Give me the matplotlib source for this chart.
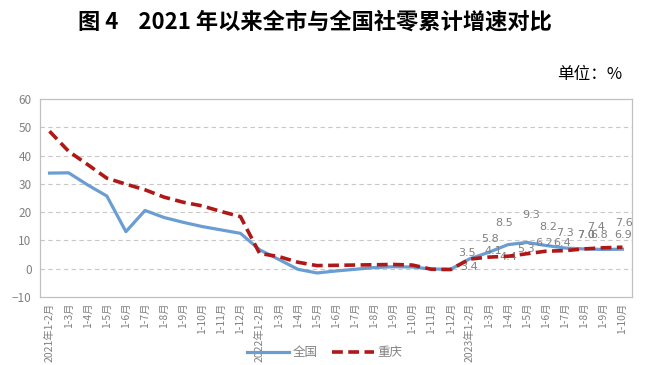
import matplotlib.pyplot as plt

plt.rcParams['font.family'] = ['Noto Sans CJK SC', 'DejaVu Sans']

# categories
months = ["1-2月", "1-3月", "1-4月", "1-5月", "1-6月", "1-7月", "1-8月",
          "1-9月", "1-10月", "1-11月", "1-12月"]
labels = (["2021年" + months[0]] + months[1:]
          + ["2022年" + months[0]] + months[1:]
          + ["2023年" + months[0]] + months[1:9])

# cumulative growth, %
national = [33.8, 33.9, 29.6, 25.7, 13.1, 20.6, 18.1, 16.4, 14.9, 13.7, 12.5,
            6.7, 3.3, -0.2, -1.5, -0.8, -0.2, 0.4, 0.7, 0.6, -0.1, -0.2,
            3.5, 5.8, 8.5, 9.3, 8.2, 7.3, 7.0, 6.8, 6.9]
chongqing = [48.6, 41.5, 36.8, 32.0, 29.9, 27.9, 25.3, 23.5, 22.2, 20.2, 18.4,
             5.4, 4.3, 2.3, 1.1, 1.2, 1.3, 1.4, 1.5, 1.3, -0.2, -0.3,
             3.4, 4.1, 4.4, 5.3, 6.2, 6.4, 7.0, 7.4, 7.6]

# label offsets (pixels) for the 2023 points
nat_off = [(-3, 6), (1, 13), (-4, 22), (4, 27), (2, 19), (0, 15), (2, 14), (-4, 14), (1, 14)]
cq_off = [(-1, -8), (5, 6), (1, -1), (-1, 5), (-2, 8), (-3, 8), (2, 14), (-7, 21), (2, 24)]

blue = "#6A9ED2"
red = "#B01818"
gray = "#808080"

fig = plt.figure(figsize=(6.47, 3.65), dpi=100)
ax = fig.add_axes([0.0618, 0.1863, 0.915, 0.5425])

x = list(range(len(labels)))
ax.plot(x, national, color=blue, lw=2.3, label="全国", zorder=3)
ax.plot(x, chongqing, color=red, lw=2.6, ls=(0, (3, 1.5)), label="重庆", zorder=4)

start = len(labels) - 9
for i, (dx, dy) in enumerate(nat_off):
    k = start + i
    ax.annotate(f"{national[k]:.1f}", (k, national[k]), xytext=(dx, dy),
                textcoords="offset pixels", ha="center", va="center",
                fontsize=8, color=gray, family="DejaVu Sans")
for i, (dx, dy) in enumerate(cq_off):
    k = start + i
    ax.annotate(f"{chongqing[k]:.1f}", (k, chongqing[k]), xytext=(dx, dy),
                textcoords="offset pixels", ha="center", va="center",
                fontsize=8, color=gray, family="DejaVu Sans")

ax.set_xlim(-0.5, len(labels) - 0.5)
ax.set_ylim(-10, 60)
ax.set_yticks(range(-10, 61, 10))
ax.set_xticks(x)
ax.set_xticklabels(labels, rotation=90, fontsize=7.5, color=gray)
ax.tick_params(axis="y", length=0, labelsize=8.5, labelcolor=gray, pad=6)
ax.tick_params(axis="x", length=0, pad=4)
for v in range(0, 60, 10):
    ax.axhline(v, color="#C8C8C8", lw=0.8, ls=(0, (4, 3)), zorder=1)
for s in ax.spines.values():
    s.set_color("#C0C0C0")
    s.set_linewidth(0.9)

fig.text(0.487, 0.94, "图 4    2021 年以来全市与全国社零累计增速对比",
         ha="center", va="center", fontsize=16, fontweight="bold")
fig.text(0.962, 0.795, "单位：%", ha="right", va="center", fontsize=12)

fig.legend(loc="center", bbox_to_anchor=(0.502, 0.033), ncol=2, frameon=False,
           fontsize=9, handlelength=3.3, columnspacing=1.2, handletextpad=0.3,
           labelcolor=gray)

fig.savefig("out.png", dpi=100)
